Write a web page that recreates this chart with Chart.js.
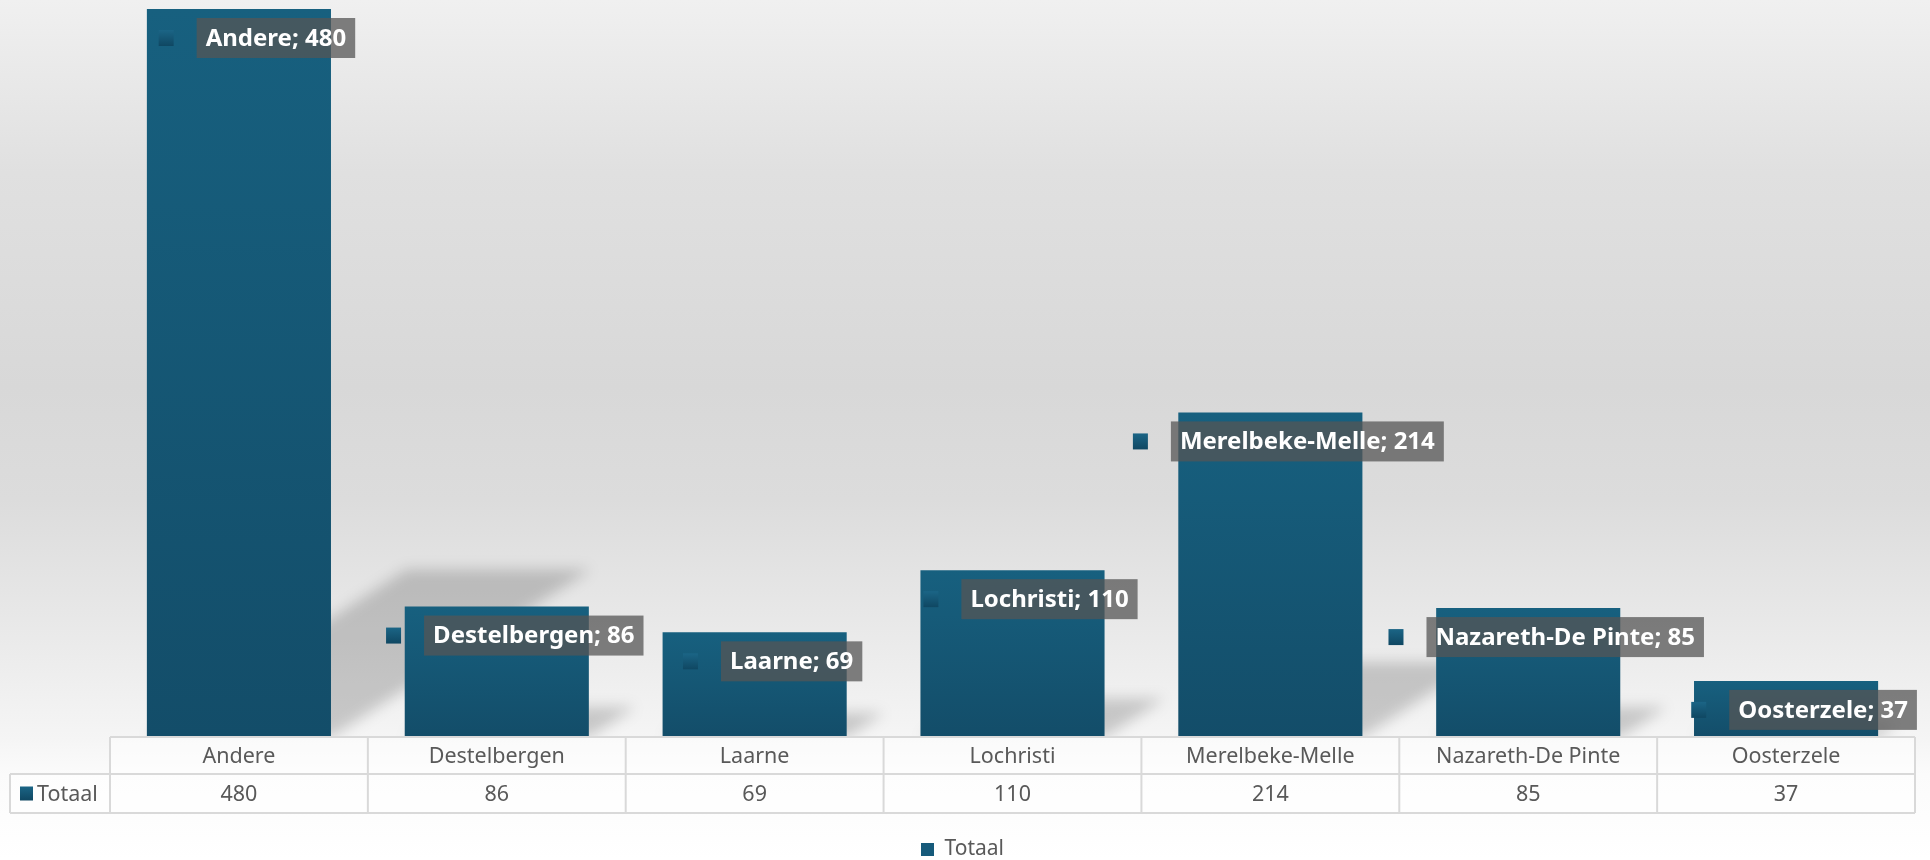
<!DOCTYPE html>
<html>
<head>
<meta charset="utf-8">
<script src="https://cdn.jsdelivr.net/npm/chart.js@4.4.1/dist/chart.umd.min.js"></script>
<style>
html, body { margin: 0; padding: 0; background: #fff; }
#wrap { width: 1930px; height: 860px; }
</style>
</head>
<body>
<div id="wrap"><canvas id="chart"></canvas></div>
<script>
const categories = ['Andere', 'Destelbergen', 'Laarne', 'Lochristi', 'Merelbeke-Melle', 'Nazareth-De Pinte', 'Oosterzele'];
const totals = [480, 86, 69, 110, 214, 85, 37];
const seriesName = 'Totaal';

const FONT = "'Noto Sans', sans-serif";
const TEXT_GREY = '#595959';
const GRID = '#d9d9d9';

Chart.defaults.font.family = FONT;

// light grey backdrop, darker in the middle
const backdrop = {
  id: 'backdrop',
  beforeDraw(chart) {
    const {ctx, width, height} = chart;
    const g = ctx.createLinearGradient(0, 0, 0, height);
    g.addColorStop(0, '#f0f0f0');
    g.addColorStop(0.2, '#e0e0e0');
    g.addColorStop(0.45, '#d8d8d8');
    g.addColorStop(0.58, '#dcdcdc');
    g.addColorStop(0.72, '#e8e8e8');
    g.addColorStop(0.86, '#f5f5f5');
    g.addColorStop(0.9, '#fbfbfb');
    g.addColorStop(1, '#ffffff');
    ctx.save();
    ctx.fillStyle = g;
    ctx.fillRect(0, 0, width, height);
    ctx.restore();
  }
};

// skewed soft shadows behind the bars
const barShadows = {
  id: 'barShadows',
  beforeDatasetsDraw(chart) {
    const {ctx, chartArea} = chart;
    const meta = chart.getDatasetMeta(0);
    ctx.save();
    ctx.beginPath();
    ctx.rect(chartArea.left, chartArea.top, chartArea.right - chartArea.left, chartArea.bottom - chartArea.top);
    ctx.clip();
    ctx.filter = 'blur(7px)';
    ctx.fillStyle = 'rgba(0,0,0,0.18)';
    meta.data.forEach(bar => {
      const left = bar.x - bar.width / 2, right = bar.x + bar.width / 2;
      const dy = (bar.base - bar.y) * 0.23, dx = dy * 1.55;
      ctx.beginPath();
      ctx.moveTo(left, bar.base);
      ctx.lineTo(right, bar.base);
      ctx.lineTo(right + dx, bar.base - dy);
      ctx.lineTo(left + dx, bar.base - dy);
      ctx.closePath();
      ctx.fill();
    });
    ctx.restore();
  }
};

function keySquare(ctx, x, y, w, h) {
  const g = ctx.createLinearGradient(0, y, 0, y + h);
  g.addColorStop(0, '#1b6586');
  g.addColorStop(1, '#0f4762');
  ctx.fillStyle = g;
  ctx.fillRect(x, y, w, h);
}

// "Name; value" callouts with a legend key in front
const callouts = {
  id: 'callouts',
  afterDatasetsDraw(chart) {
    const {ctx} = chart;
    const meta = chart.getDatasetMeta(0);
    ctx.save();
    ctx.font = 'bold 24px ' + FONT;
    ctx.textBaseline = 'middle';
    ctx.textAlign = 'center';
    meta.data.forEach((bar, i) => {
      const text = categories[i] + '; ' + totals[i];
      const tw = ctx.measureText(text).width;
      const bw = tw + 18, bh = 40;
      const cx = bar.x + 37, cy = bar.y + 29;
      const bx = cx - bw / 2;
      keySquare(ctx, bx - 23 - 15, cy - 8, 15, 16);
      ctx.fillStyle = 'rgba(85,85,85,0.75)';
      ctx.fillRect(bx, cy - bh / 2, bw, bh);
      ctx.fillStyle = '#ffffff';
      ctx.fillText(text, cx, cy + 1);
    });
    ctx.restore();
  }
};

// data table under the plot
const dataTable = {
  id: 'dataTable',
  afterDraw(chart) {
    const {ctx, chartArea} = chart;
    const x = chart.scales.x;
    const colW = x.getPixelForValue(1) - x.getPixelForValue(0);
    const top = chartArea.bottom, mid = top + 37, bottom = mid + 39;
    const left = chartArea.left, right = chartArea.right, outer = 10;
    ctx.save();
    ctx.fillStyle = 'rgba(255,255,255,0.5)';
    ctx.fillRect(left, top, right - left, mid - top);
    ctx.fillRect(outer, mid, right - outer, bottom - mid);
    ctx.strokeStyle = GRID;
    ctx.lineWidth = 2;
    ctx.beginPath();
    ctx.moveTo(left, top); ctx.lineTo(right, top);
    ctx.moveTo(outer, mid); ctx.lineTo(right, mid);
    ctx.moveTo(outer, bottom); ctx.lineTo(right, bottom);
    ctx.moveTo(outer, mid); ctx.lineTo(outer, bottom);
    categories.forEach((c, i) => {
      const l = x.getPixelForValue(i) - colW / 2;
      ctx.moveTo(l, top); ctx.lineTo(l, bottom);
    });
    ctx.moveTo(right, top); ctx.lineTo(right, bottom);
    ctx.stroke();

    ctx.fillStyle = TEXT_GREY;
    ctx.font = '21.5px ' + FONT;
    ctx.textBaseline = 'middle';
    ctx.textAlign = 'center';
    categories.forEach((c, i) => {
      const px = x.getPixelForValue(i);
      ctx.fillText(c, px, (top + mid) / 2 + 1);
      ctx.fillText(String(totals[i]), px, (mid + bottom) / 2 + 1);
    });
    keySquare(ctx, 20, (mid + bottom) / 2 - 7, 13, 14);
    ctx.fillStyle = TEXT_GREY;
    ctx.textAlign = 'left';
    ctx.fillText(seriesName, 37, (mid + bottom) / 2 + 1);
    ctx.restore();
  }
};

new Chart(document.getElementById('chart'), {
  type: 'bar',
  data: {
    labels: categories,
    datasets: [{
      label: seriesName,
      data: totals,
      backgroundColor: (c) => {
        const chart = c.chart;
        if (!chart.chartArea || c.dataIndex === undefined) return '#155878';
        const y = chart.scales.y;
        const g = chart.ctx.createLinearGradient(0, y.getPixelForValue(totals[c.dataIndex]), 0, y.getPixelForValue(0));
        g.addColorStop(0, '#17607f');
        g.addColorStop(1, '#134d69');
        return g;
      },
      borderWidth: 0,
      barPercentage: 0.714,
      categoryPercentage: 1
    }]
  },
  options: {
    responsive: true,
    maintainAspectRatio: false,
    animation: false,
    layout: { padding: { left: 10, right: 15, top: 9, bottom: -10 } },
    scales: {
      x: {
        grid: { display: false },
        border: { display: false },
        ticks: { display: false },
        afterFit: (axis) => { axis.height = 92; }
      },
      y: {
        min: 0,
        max: 480,
        grid: { display: false },
        border: { display: false },
        ticks: { display: false },
        afterFit: (axis) => { axis.width = 100; }
      }
    },
    plugins: {
      legend: {
        position: 'bottom',
        labels: {
          color: TEXT_GREY,
          font: { size: 21, family: FONT },
          boxWidth: 13,
          boxHeight: 13,
          padding: 10,
          generateLabels: () => [{
            text: seriesName,
            fillStyle: '#165a7a',
            strokeStyle: '#165a7a',
            fontColor: TEXT_GREY,
            lineWidth: 0,
            hidden: false,
            datasetIndex: 0
          }]
        }
      },
      tooltip: { enabled: false }
    }
  },
  plugins: [backdrop, barShadows, callouts, dataTable]
});
</script>
</body>
</html>
